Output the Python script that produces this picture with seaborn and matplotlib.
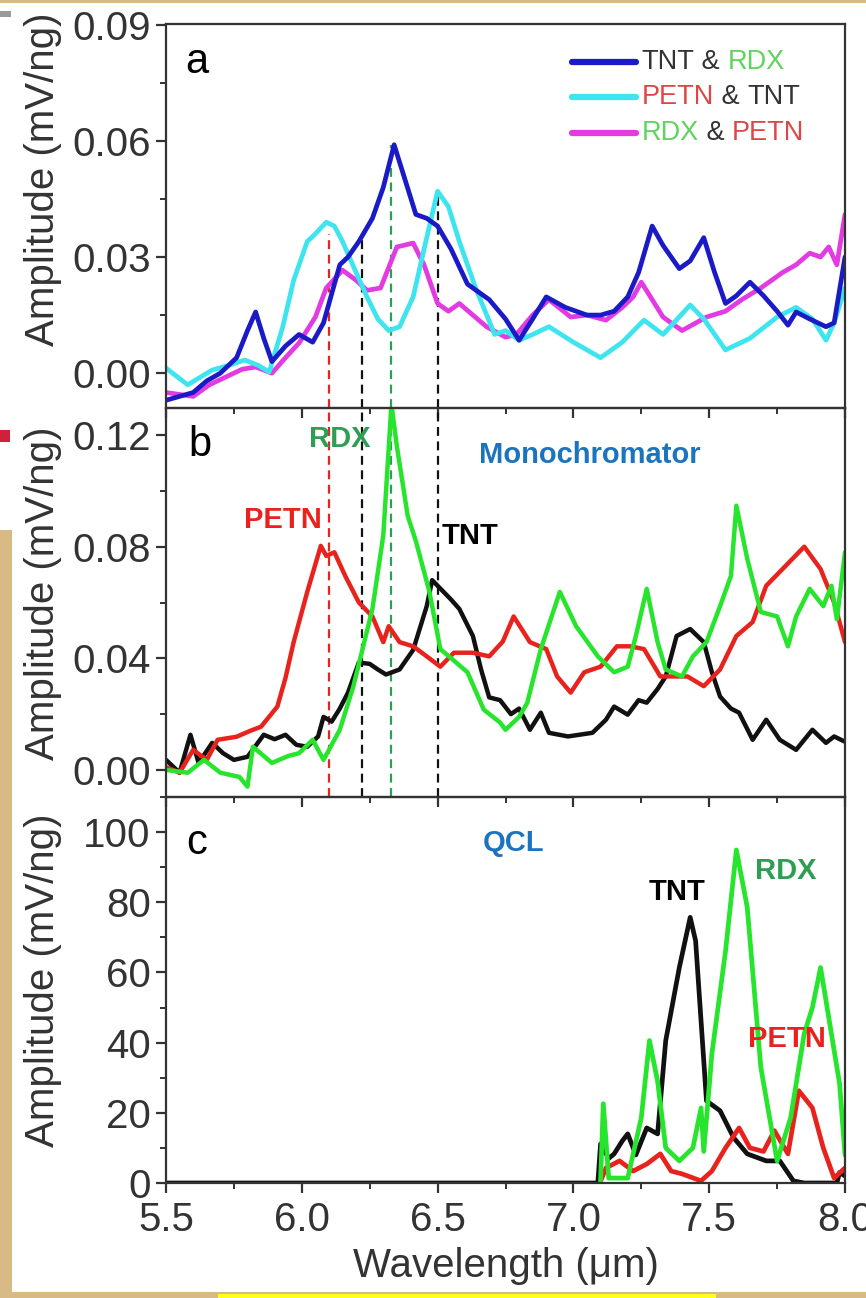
import numpy as np
import pandas as pd
import matplotlib
matplotlib.use("Agg")
import matplotlib.pyplot as plt
import seaborn as sns
from matplotlib.lines import Line2D
from matplotlib.patches import Rectangle
from matplotlib.offsetbox import DrawingArea, TextArea, HPacker, VPacker, AnchoredOffsetbox
from matplotlib.ticker import MultipleLocator, FormatStrFormatter

# ---------------- data ----------------
# panel a (mixtures)
a_blue_x = [5.50, 5.55, 5.60, 5.65, 5.70, 5.76, 5.80, 5.83, 5.86, 5.89, 5.94, 5.99, 6.04, 6.08, 6.14, 6.17,
            6.21, 6.26, 6.30, 6.34, 6.38, 6.42, 6.46, 6.50, 6.55, 6.61, 6.65, 6.69, 6.75, 6.80, 6.85, 6.90,
            6.97, 7.05, 7.10, 7.15, 7.20, 7.24, 7.29, 7.33, 7.39, 7.43, 7.48, 7.52, 7.56, 7.60, 7.65, 7.70,
            7.75, 7.79, 7.82, 7.87, 7.93, 7.96, 8.00]
a_blue_y = [-0.007, -0.006, -0.005, -0.002, 0.000, 0.004, 0.011, 0.0158, 0.009, 0.003, 0.007, 0.010, 0.008,
            0.013, 0.028, 0.030, 0.034, 0.040, 0.048, 0.059, 0.050, 0.041, 0.040, 0.038, 0.032, 0.023, 0.021,
            0.019, 0.014, 0.0085, 0.014, 0.0197, 0.017, 0.015, 0.015, 0.016, 0.0197, 0.026, 0.038, 0.033,
            0.027, 0.029, 0.035, 0.026, 0.018, 0.020, 0.0235, 0.020, 0.016, 0.0124, 0.0158, 0.014, 0.012,
            0.013, 0.030]

a_cyan_x = [5.50, 5.58, 5.67, 5.73, 5.79, 5.84, 5.88, 5.93, 5.97, 6.02, 6.05, 6.09, 6.12, 6.15, 6.20, 6.24,
            6.28, 6.32, 6.36, 6.41, 6.45, 6.50, 6.54, 6.58, 6.64, 6.71, 6.75, 6.80, 6.85, 6.91, 7.00, 7.10,
            7.18, 7.26, 7.33, 7.43, 7.48, 7.56, 7.65, 7.75, 7.82, 7.88, 7.93, 7.96, 8.00]
a_cyan_y = [0.0013, -0.003, 0.0008, 0.002, 0.0034, 0.002, 0.0003, 0.012, 0.024, 0.034, 0.036, 0.039, 0.038,
            0.034, 0.026, 0.0197, 0.014, 0.011, 0.012, 0.0197, 0.032, 0.047, 0.043, 0.034, 0.022, 0.010,
            0.011, 0.0085, 0.010, 0.012, 0.008, 0.004, 0.008, 0.0137, 0.010, 0.0176, 0.014, 0.006, 0.009,
            0.0145, 0.017, 0.014, 0.0085, 0.013, 0.022]

a_mag_x = [5.50, 5.60, 5.66, 5.72, 5.78, 5.83, 5.89, 5.94, 5.99, 6.05, 6.09, 6.15, 6.20, 6.24, 6.29, 6.35,
           6.41, 6.45, 6.50, 6.54, 6.58, 6.63, 6.68, 6.75, 6.79, 6.85, 6.91, 6.99, 7.05, 7.12, 7.18, 7.22,
           7.25, 7.29, 7.33, 7.40, 7.49, 7.56, 7.62, 7.69, 7.77, 7.82, 7.87, 7.91, 7.94, 7.97, 8.00]
a_mag_y = [-0.005, -0.006, -0.003, -0.001, 0.001, 0.0016, 0.000, 0.004, 0.0078, 0.0145, 0.022, 0.0266, 0.024,
           0.0214, 0.022, 0.0326, 0.0336, 0.028, 0.018, 0.016, 0.018, 0.015, 0.012, 0.0093, 0.010, 0.015,
           0.019, 0.0145, 0.015, 0.0137, 0.017, 0.0197, 0.0235, 0.019, 0.0145, 0.011, 0.0145, 0.016, 0.019,
           0.022, 0.026, 0.028, 0.031, 0.030, 0.0326, 0.028, 0.041]

# panel b (monochromator)
b_tnt_x = [5.50, 5.55, 5.59, 5.62, 5.67, 5.71, 5.75, 5.80, 5.86, 5.90, 5.94, 5.98, 6.02, 6.06, 6.08, 6.11,
           6.14, 6.17, 6.21, 6.25, 6.28, 6.31, 6.36, 6.41, 6.46, 6.48, 6.52, 6.55, 6.58, 6.63, 6.66, 6.69,
           6.73, 6.77, 6.80, 6.84, 6.88, 6.91, 6.98, 7.07, 7.12, 7.15, 7.20, 7.24, 7.27, 7.31, 7.34, 7.38,
           7.43, 7.48, 7.51, 7.54, 7.58, 7.61, 7.66, 7.71, 7.76, 7.82, 7.88, 7.93, 7.96, 8.00]
b_tnt_y = [0.0036, -0.001, 0.0126, 0.0025, 0.0097, 0.006, 0.0036, 0.0047, 0.0126, 0.011, 0.0126, 0.009,
           0.0083, 0.012, 0.019, 0.0173, 0.022, 0.0277, 0.0385, 0.038, 0.036, 0.0342, 0.036, 0.043, 0.0587,
           0.068, 0.064, 0.061, 0.0577, 0.048, 0.036, 0.026, 0.025, 0.020, 0.022, 0.0144, 0.0205, 0.0133,
           0.012, 0.0133, 0.018, 0.0227, 0.0198, 0.025, 0.0241, 0.029, 0.0335, 0.048, 0.0505, 0.0458, 0.035,
           0.0263, 0.022, 0.0205, 0.0108, 0.018, 0.0108, 0.0072, 0.0144, 0.0097, 0.012, 0.0101]

b_petn_x = [5.50, 5.55, 5.60, 5.65, 5.69, 5.76, 5.81, 5.85, 5.91, 5.94, 5.97, 6.02, 6.07, 6.09, 6.12, 6.16,
            6.21, 6.26, 6.30, 6.32, 6.36, 6.41, 6.46, 6.51, 6.56, 6.63, 6.69, 6.74, 6.78, 6.84, 6.90, 6.94,
            6.99, 7.04, 7.10, 7.16, 7.21, 7.26, 7.32, 7.42, 7.48, 7.54, 7.60, 7.66, 7.71, 7.78, 7.85, 7.91,
            7.96, 8.00]
b_petn_y = [0.001, -0.001, 0.0072, 0.0036, 0.0108, 0.0119, 0.014, 0.0155, 0.0227, 0.033, 0.0458, 0.0638,
            0.0803, 0.0767, 0.078, 0.0695, 0.060, 0.055, 0.0458, 0.0515, 0.0458, 0.0443, 0.0407, 0.037, 0.042,
            0.042, 0.0407, 0.046, 0.055, 0.0458, 0.0433, 0.0335, 0.0277, 0.035, 0.037, 0.0443, 0.0443, 0.0433,
            0.0335, 0.0335, 0.030, 0.036, 0.048, 0.053, 0.066, 0.073, 0.080, 0.072, 0.060, 0.0458]

b_rdx_x = [5.50, 5.58, 5.64, 5.70, 5.77, 5.80, 5.82, 5.89, 5.95, 5.99, 6.04, 6.08, 6.14, 6.19, 6.26, 6.30,
           6.33, 6.35, 6.39, 6.42, 6.47, 6.51, 6.55, 6.61, 6.67, 6.73, 6.75, 6.80, 6.83, 6.88, 6.95, 7.01,
           7.09, 7.15, 7.20, 7.23, 7.27, 7.31, 7.34, 7.40, 7.44, 7.49, 7.54, 7.58, 7.60, 7.64, 7.69, 7.75,
           7.79, 7.82, 7.87, 7.92, 7.95, 7.97, 8.00]
b_rdx_y = [0.000, -0.001, 0.0036, -0.001, -0.0025, -0.006, 0.0083, 0.0025, 0.005, 0.006, 0.0108, 0.0036,
           0.0144, 0.030, 0.0577, 0.084, 0.131, 0.116, 0.091, 0.082, 0.0638, 0.0433, 0.040, 0.035, 0.0216,
           0.017, 0.0144, 0.019, 0.024, 0.0433, 0.0638, 0.0515, 0.0407, 0.035, 0.037, 0.048, 0.0649, 0.0458,
           0.036, 0.0335, 0.0407, 0.0458, 0.0587, 0.0695, 0.0947, 0.0757, 0.0566, 0.055, 0.0443, 0.055,
           0.0649, 0.0587, 0.066, 0.054, 0.078]

# panel c (QCL)
c_tnt_x = [5.50, 7.09, 7.10, 7.13, 7.15, 7.18, 7.20, 7.23, 7.27, 7.31, 7.34, 7.39, 7.43, 7.45, 7.49, 7.54,
           7.59, 7.64, 7.71, 7.76, 7.81, 7.85, 7.97, 7.98, 8.00]
c_tnt_y = [0, 0, 11.1, 7.0, 8.3, 12.0, 14.0, 8.0, 15.7, 14.0, 40.6, 61.4, 75.7, 69.0, 23.4, 20.6, 12.9, 8.3,
           6.3, 6.3, 0.6, 0, 0, 3.0, 2.0]

c_rdx_x = [7.10, 7.11, 7.13, 7.20, 7.25, 7.28, 7.31, 7.34, 7.39, 7.44, 7.47, 7.48, 7.51, 7.56, 7.60, 7.64,
           7.69, 7.75, 7.80, 7.85, 7.88, 7.91, 7.93, 7.98, 8.00]
c_rdx_y = [0.6, 22.6, 1.4, 1.4, 18.6, 40.6, 29.0, 10.0, 6.3, 10.0, 21.4, 9.0, 36.9, 66.0, 94.9, 78.6, 33.0,
           6.3, 18.6, 42.6, 50.0, 61.4, 52.0, 28.3, 8.0]

c_petn_x = [7.10, 7.12, 7.17, 7.22, 7.27, 7.32, 7.36, 7.40, 7.47, 7.51, 7.56, 7.61, 7.65, 7.70, 7.74, 7.79,
            7.83, 7.88, 7.92, 7.96, 8.00]
c_petn_y = [0.5, 4.3, 6.3, 3.4, 5.4, 8.3, 3.4, 2.6, 0.6, 3.4, 10.0, 15.7, 10.0, 9.0, 14.9, 8.3, 26.3, 21.4,
            10.0, 1.4, 4.3]

# reference wavelengths (dashed markers) and their top values in panel a
dash_x = [6.10, 6.22, 6.33, 6.50]
dash_top_a = [0.036, 0.0357, 0.059, 0.046]

x_ticks = [5.5, 6.0, 6.5, 7.0, 7.5, 8.0]
mix_labels = ["RDX & PETN", "PETN & TNT", "TNT & RDX"]
single_labels = ["TNT", "PETN", "RDX"]

# ---------------- style ----------------
C_BLUE, C_CYAN, C_MAG = "#1a1ac6", "#3ee4ee", "#e23be2"
C_BLACK, C_RED, C_GREEN = "#111111", "#e8231e", "#27e42c"
C_LBL_GREEN, C_LBL_BLUE, C_LBL_RED = "#2e9e55", "#1c74be", "#e8231e"
C_TXT = "#333333"
TAN = "#d8bb84"

sns.set_theme(style="ticks")
plt.rcParams['font.family'] = ['Liberation Sans', 'DejaVu Sans']

W, H = 866, 1298
fig = plt.figure(figsize=(W / 100, H / 100), dpi=100)
fig.patch.set_facecolor(TAN)


def px_rect(x0, y0, x1, y1, color):
    fig.add_artist(Rectangle((x0 / W, 1 - y1 / H), (x1 - x0) / W, (y1 - y0) / H,
                             transform=fig.transFigure, facecolor=color, edgecolor='none', zorder=-10))


px_rect(0, 3, W, 530, "white")
px_rect(12, 530, W, 1292, "white")
px_rect(218, 1294, 716, H, "#ffff1e")
px_rect(0, 11, 11, 17, "#9a9a9a")
px_rect(0, 430, 10, 442, "#d0203a")

L, R = 166, 845


def add_ax(top, bottom):
    ax = fig.add_axes([L / W, 1 - bottom / H, (R - L) / W, (bottom - top) / H])
    ax.set_facecolor('none')
    return ax


axa = add_ax(24, 408)
axb = add_ax(408, 797)
axc = add_ax(797, 1183)

# ---------------- panel a ----------------
dfa = pd.concat([
    pd.DataFrame({"x": a_mag_x, "y": a_mag_y, "s": mix_labels[0]}),
    pd.DataFrame({"x": a_cyan_x, "y": a_cyan_y, "s": mix_labels[1]}),
    pd.DataFrame({"x": a_blue_x, "y": a_blue_y, "s": mix_labels[2]}),
])
pal_a = {mix_labels[0]: C_MAG, mix_labels[1]: C_CYAN, mix_labels[2]: C_BLUE}
axa.vlines(dash_x, -0.009, dash_top_a, colors=[C_RED, C_BLACK, C_LBL_GREEN, C_BLACK],
           linestyles=[(0, (4, 2.5))], lw=1.6, zorder=1)
sns.lineplot(data=dfa, x="x", y="y", hue="s", hue_order=mix_labels, palette=pal_a, sort=False,
             estimator=None, lw=3.4, legend=False, ax=axa, zorder=2)
axa.set_ylim(-0.009, 0.0902)
axa.yaxis.set_major_locator(MultipleLocator(0.03))
axa.yaxis.set_minor_locator(MultipleLocator(0.015))
axa.yaxis.set_major_formatter(FormatStrFormatter('%.2f'))
axa.text(5.614, 0.0804, "a", fontsize=30, color="black", ha="center", va="center")

# legend with two-coloured labels
leg_rows = [
    (C_BLUE, [("TNT", C_TXT), (" & ", C_TXT), ("RDX", "#5ed45e")]),
    (C_CYAN, [("PETN", "#e04545"), (" & ", C_TXT), ("TNT", C_TXT)]),
    (C_MAG, [("RDX", "#5ed45e"), (" & ", C_TXT), ("PETN", "#e04545")]),
]
rows = []
for lc, parts in leg_rows:
    da = DrawingArea(46, 12, 0, 0)
    da.add_artist(Line2D([0, 46], [6, 6], color=lc, lw=4.5, solid_capstyle='round'))
    txt = HPacker(children=[TextArea(t, textprops=dict(color=c, fontsize=19.5)) for t, c in parts],
                  sep=0, pad=0, align="baseline")
    rows.append(HPacker(children=[da, txt], sep=4, pad=0, align="center"))
vp = VPacker(children=rows, sep=7, pad=0, align="left")
anch = AnchoredOffsetbox(loc='upper left', child=vp, pad=0, borderpad=0, frameon=False,
                         bbox_to_anchor=(0.598, 0.936), bbox_transform=axa.transAxes)
axa.add_artist(anch)

# ---------------- panel b ----------------
dfb = pd.concat([
    pd.DataFrame({"x": b_tnt_x, "y": b_tnt_y, "s": single_labels[0]}),
    pd.DataFrame({"x": b_petn_x, "y": b_petn_y, "s": single_labels[1]}),
    pd.DataFrame({"x": b_rdx_x, "y": b_rdx_y, "s": single_labels[2]}),
])
pal_s = {single_labels[0]: C_BLACK, single_labels[1]: C_RED, single_labels[2]: C_GREEN}
for xv, col in zip(dash_x, [C_RED, C_BLACK, C_LBL_GREEN, C_BLACK]):
    axb.axvline(xv, color=col, ls=(0, (4, 2.5)), lw=1.6, zorder=1)
sns.lineplot(data=dfb, x="x", y="y", hue="s", hue_order=single_labels, palette=pal_s, sort=False,
             estimator=None, lw=3.2, legend=False, ax=axb, zorder=2)
axb.set_ylim(-0.0097, 0.1297)
axb.yaxis.set_major_locator(MultipleLocator(0.04))
axb.yaxis.set_minor_locator(MultipleLocator(0.02))
axb.yaxis.set_major_formatter(FormatStrFormatter('%.2f'))
axb.text(5.625, 0.1164, "b", fontsize=30, color="black", ha="center", va="center")
axb.text(6.141, 0.1186, "RDX", fontsize=21, fontweight="bold", color=C_LBL_GREEN, ha="center", va="center")
axb.text(7.061, 0.1128, "Monochromator", fontsize=21, fontweight="bold", color=C_LBL_BLUE,
         ha="center", va="center")
axb.text(5.931, 0.0897, "PETN", fontsize=21, fontweight="bold", color=C_LBL_RED, ha="center", va="center")
axb.text(6.619, 0.0840, "TNT", fontsize=21, fontweight="bold", color="black", ha="center", va="center")

# ---------------- panel c ----------------
dfc = pd.concat([
    pd.DataFrame({"x": c_tnt_x, "y": c_tnt_y, "s": single_labels[0]}),
    pd.DataFrame({"x": c_petn_x, "y": c_petn_y, "s": single_labels[1]}),
    pd.DataFrame({"x": c_rdx_x, "y": c_rdx_y, "s": single_labels[2]}),
])
sns.lineplot(data=dfc, x="x", y="y", hue="s", hue_order=single_labels, palette=pal_s, sort=False,
             estimator=None, lw=3.4, legend=False, ax=axc, zorder=2)
axc.set_ylim(0, 110)
axc.yaxis.set_major_locator(MultipleLocator(20))
axc.yaxis.set_minor_locator(MultipleLocator(10))
axc.yaxis.set_major_formatter(FormatStrFormatter('%d'))
axc.text(5.614, 96.9, "c", fontsize=30, color="black", ha="center", va="center")
axc.text(6.778, 96.9, "QCL", fontsize=21, fontweight="bold", color=C_LBL_BLUE, ha="center", va="center")
axc.text(7.381, 82.9, "TNT", fontsize=21, fontweight="bold", color="black", ha="center", va="center")
axc.text(7.783, 88.9, "RDX", fontsize=21, fontweight="bold", color=C_LBL_GREEN, ha="center", va="center")
axc.text(7.786, 40.9, "PETN", fontsize=21, fontweight="bold", color=C_LBL_RED, ha="center", va="center")

# ---------------- common axes styling ----------------
label_y = {axa: 0.596, axb: 0.524, axc: 0.526}
for ax in (axa, axb, axc):
    ax.set_xlim(5.5, 8.0)
    ax.set_xticks(x_ticks)
    ax.xaxis.set_minor_locator(MultipleLocator(0.25))
    ax.xaxis.set_major_formatter(FormatStrFormatter('%.1f'))
    ax.tick_params(axis='both', which='major', direction='out', length=7, width=1.6,
                   labelsize=29, colors=C_TXT, pad=4)
    ax.tick_params(axis='both', which='minor', direction='out', length=4, width=1.4, colors=C_TXT)
    ax.tick_params(top=False, right=False)
    for sp in ax.spines.values():
        sp.set_visible(True)
        sp.set_linewidth(1.6)
        sp.set_color(C_TXT)
    ax.set_ylabel("Amplitude (mV/ng)", fontsize=29, color=C_TXT)
    ax.yaxis.set_label_coords(-0.153, label_y[ax])
    ax.set_xlabel("")

axa.tick_params(labelbottom=False)
axb.tick_params(labelbottom=False)
axc.tick_params(axis='x', which='major', pad=6)
axc.set_xlabel("Wavelength (\u03bcm)", fontsize=29, color=C_TXT)
axc.xaxis.set_label_coords(0.5, -0.165)

fig.savefig("out.png", dpi=100, facecolor=fig.get_facecolor())
